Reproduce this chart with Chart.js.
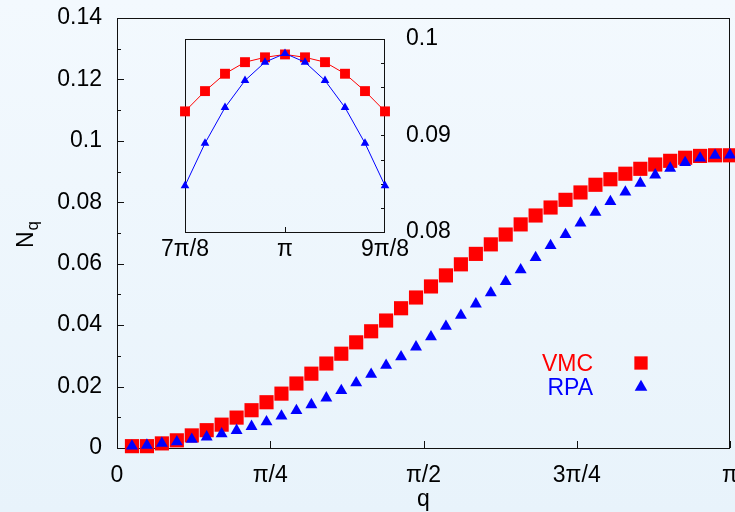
<!DOCTYPE html>
<html lang="en">
<head>
<meta charset="UTF-8">
<title>N(q) VMC vs RPA</title>
<script src="https://cdn.jsdelivr.net/npm/chart.js"></script>
<style>
  html, body { margin: 0; padding: 0; }
  body {
    width: 735px; height: 512px; overflow: hidden;
    background: linear-gradient(#f3f9fe, #e8f3fb);
  }
  #wrap { position: relative; width: 760px; height: 512px; }
  #mainChart { position: absolute; left: 0; top: 0; }
  #insetChart { position: absolute; left: 150px; top: 20px; }
</style>
</head>
<body>
<div id="wrap">
  <canvas id="mainChart" width="760" height="512"></canvas>
  <canvas id="insetChart" width="330" height="250"></canvas>
</div>

<script>
// q in units of pi
const mainQ = [0.0244, 0.0488, 0.0732, 0.0976, 0.1220, 0.1463, 0.1707, 0.1951, 0.2195, 0.2439,
               0.2683, 0.2927, 0.3171, 0.3415, 0.3659, 0.3902, 0.4146, 0.4390, 0.4634, 0.4878,
               0.5122, 0.5366, 0.5610, 0.5854, 0.6098, 0.6341, 0.6585, 0.6829, 0.7073, 0.7317,
               0.7561, 0.7805, 0.8049, 0.8293, 0.8537, 0.8780, 0.9024, 0.9268, 0.9512, 0.9756, 1.0];
const vmcMain = [0.0006, 0.0006, 0.0015, 0.0025, 0.0041, 0.0058, 0.0076, 0.0099, 0.0123, 0.0149,
                 0.0177, 0.0210, 0.0242, 0.0275, 0.0307, 0.0344, 0.0380, 0.0415, 0.0455, 0.0490,
                 0.0526, 0.0562, 0.0598, 0.0632, 0.0663, 0.0695, 0.0728, 0.0757, 0.0783, 0.0808,
                 0.0832, 0.0857, 0.0875, 0.0893, 0.0909, 0.0923, 0.0935, 0.0945, 0.0951, 0.0953, 0.0953];
const rpaMain = [0.0006, 0.0009, 0.0015, 0.0020, 0.0028, 0.0036, 0.0046, 0.0057, 0.0070, 0.0085,
                 0.0104, 0.0122, 0.0141, 0.0163, 0.0187, 0.0212, 0.0240, 0.0269, 0.0297, 0.0329,
                 0.0362, 0.0396, 0.0432, 0.0469, 0.0505, 0.0542, 0.0580, 0.0620, 0.0659, 0.0695,
                 0.0732, 0.0767, 0.0802, 0.0833, 0.0862, 0.0889, 0.0911, 0.0929, 0.0944, 0.0953, 0.0954];

const insetQ = [0.875, 0.9, 0.925, 0.95, 0.975, 1.0, 1.025, 1.05, 1.075, 1.1, 1.125];
const vmcInset = [0.0925, 0.0946, 0.0964, 0.0976, 0.0981, 0.0984, 0.0981, 0.0976, 0.0964, 0.0946, 0.0925];
const rpaInset = [0.0848, 0.0892, 0.0929, 0.0957, 0.0976, 0.0985, 0.0976, 0.0957, 0.0929, 0.0892, 0.0848];

const mainXTicks = [0, 0.25, 0.5, 0.75, 1];
const mainXLabels = ['0', 'π/4', 'π/2', '3π/4', 'π'];
const mainYTicks = [0, 0.02, 0.04, 0.06, 0.08, 0.1, 0.12, 0.14];
const mainYLabels = ['0', '0.02', '0.04', '0.06', '0.08', '0.1', '0.12', '0.14'];
const insetXTicks = [0.875, 1, 1.125];
const insetXLabels = ['7π/8', 'π', '9π/8'];
const insetYTicks = [0.08, 0.09, 0.1];
const insetYLabels = ['0.08', '0.09', '0.1'];

const RED = '#ff0000', BLUE = '#0000ff';
Chart.defaults.font.family = '"Liberation Sans", Arial, sans-serif';
Chart.defaults.color = '#000';

function pts(xs, ys) { return xs.map((x, i) => ({ x: x, y: ys[i] })); }
function setTicks(vals) { return function (s) { s.ticks = vals.map(v => ({ value: v })); }; }
// fixed axis size, and no extra room for label overhang
function fixSize(prop, size) {
  return function (s) {
    s[prop] = size;
    s.paddingTop = 0; s.paddingBottom = 0; s.paddingLeft = 0; s.paddingRight = 0;
  };
}

// box + inward ticks, drawn under the points
function framePlugin(cfg) {
  return {
    id: 'frame',
    beforeDatasetsDraw(chart) {
      const c = chart.ctx, a = chart.chartArea, xs = chart.scales.x, ys = chart.scales.y;
      c.save();
      c.strokeStyle = '#111';
      c.lineWidth = 1;
      c.strokeRect(Math.round(a.left) + 0.5, Math.round(a.top) + 0.5,
                   Math.round(a.right - a.left) - 1, Math.round(a.bottom - a.top));
      c.beginPath();
      cfg.xTicks.forEach(v => {
        const px = Math.round(xs.getPixelForValue(v)) + 0.5;
        c.moveTo(px, a.bottom); c.lineTo(px, a.bottom - cfg.xLen);
      });
      for (let v = cfg.yMin; v <= cfg.yMax + 1e-9; v += cfg.yStep) {
        const py = Math.round(ys.getPixelForValue(v)) + 0.5;
        const major = cfg.yTicks.some(t => Math.abs(t - v) < 1e-9);
        const len = major ? cfg.yMajor : cfg.yMinor;
        if (cfg.ySide === 'left') { c.moveTo(a.left, py); c.lineTo(a.left + len, py); }
        else { c.moveTo(a.right, py); c.lineTo(a.right - len, py); }
      }
      c.stroke();
      c.restore();
    }
  };
}

const labelsPlugin = {
  id: 'labels',
  afterDraw(chart) {
    const c = chart.ctx, a = chart.chartArea;
    c.save();
    c.fillStyle = '#000';
    // x title
    c.font = '23px "Liberation Sans", Arial, sans-serif';
    c.textAlign = 'center';
    c.textBaseline = 'alphabetic';
    c.fillText('q', (a.left + a.right) / 2, 506);
    // y title N_q
    c.save();
    c.translate(33, 248);
    c.rotate(-Math.PI / 2);
    c.textAlign = 'left';
    c.fillText('N', 0, 0);
    const w = c.measureText('N').width;
    c.font = '17px "Liberation Sans", Arial, sans-serif';
    c.fillText('q', w + 1, 5);
    c.restore();
    // key
    c.font = '23px "Liberation Sans", Arial, sans-serif';
    c.textAlign = 'right';
    c.fillStyle = RED;
    c.fillText('VMC', 593, 371);
    Chart.helpers.drawPoint(c, { pointStyle: 'rect', radius: 9.4, borderWidth: 0 }, 641, 363);
    c.fillStyle = BLUE;
    c.fillText('RPA', 593, 395);
    Chart.helpers.drawPoint(c, { pointStyle: 'triangle', radius: 7.3, borderWidth: 0 }, 641, 387);
    c.restore();
  }
};

new Chart(document.getElementById('mainChart').getContext('2d'), {
  type: 'scatter',
  data: {
    datasets: [
      { label: 'RPA', data: pts(mainQ, rpaMain), order: 0, pointStyle: 'triangle', pointRadius: 6.9,
        pointBackgroundColor: BLUE, pointBorderWidth: 0, showLine: false, clip: false },
      { label: 'VMC', data: pts(mainQ, vmcMain), order: 1, pointStyle: 'rect', pointRadius: 10,
        pointBackgroundColor: RED, pointBorderWidth: 0, showLine: false, clip: false }
    ]
  },
  options: {
    responsive: false, animation: false, events: [],
    layout: { padding: { left: 0, right: 30, top: 18, bottom: 0 } },
    plugins: { legend: { display: false }, tooltip: { enabled: false } },
    scales: {
      x: {
        type: 'linear', min: 0, max: 1,
        afterBuildTicks: setTicks(mainXTicks),
        afterFit: fixSize('height', 64),
        ticks: { callback: (v, i) => mainXLabels[i], font: { size: 23 }, padding: 14,
                 maxRotation: 0, autoSkip: false },
        grid: { display: false, drawTicks: false }, border: { display: false }
      },
      y: {
        type: 'linear', min: 0, max: 0.14,
        afterBuildTicks: setTicks(mainYTicks),
        afterFit: fixSize('width', 117),
        ticks: { callback: (v, i) => mainYLabels[i], font: { size: 23 }, padding: 15, autoSkip: false },
        grid: { display: false, drawTicks: false }, border: { display: false }
      }
    }
  },
  plugins: [framePlugin({ xTicks: mainXTicks, xLen: 7, yTicks: mainYTicks, yMin: 0, yMax: 0.14,
                          yStep: 0.01, yMajor: 7, yMinor: 4, ySide: 'left' }), labelsPlugin]
});

new Chart(document.getElementById('insetChart').getContext('2d'), {
  type: 'scatter',
  data: {
    datasets: [
      { label: 'RPA', data: pts(insetQ, rpaInset), order: 0, pointStyle: 'triangle', pointRadius: 5,
        pointBackgroundColor: BLUE, pointBorderWidth: 0, borderColor: BLUE, borderWidth: 1,
        showLine: true, tension: 0, clip: false },
      { label: 'VMC', data: pts(insetQ, vmcInset), order: 1, pointStyle: 'rect', pointRadius: 7,
        pointBackgroundColor: RED, pointBorderWidth: 0, borderColor: RED, borderWidth: 1,
        showLine: true, tension: 0, clip: false }
    ]
  },
  options: {
    responsive: false, animation: false, events: [],
    layout: { padding: { left: 35, right: 0, top: 19, bottom: 0 } },
    plugins: { legend: { display: false }, tooltip: { enabled: false } },
    scales: {
      x: {
        type: 'linear', min: 0.875, max: 1.125,
        afterBuildTicks: setTicks(insetXTicks),
        afterFit: fixSize('height', 38),
        ticks: { callback: (v, i) => insetXLabels[i], font: { size: 23 }, padding: 4,
                 maxRotation: 0, autoSkip: false },
        grid: { display: false, drawTicks: false }, border: { display: false }
      },
      y: {
        type: 'linear', position: 'right', min: 0.08, max: 0.1,
        afterBuildTicks: setTicks(insetYTicks),
        afterFit: fixSize('width', 95),
        ticks: { callback: (v, i) => insetYLabels[i], font: { size: 23 }, padding: 21, autoSkip: false },
        grid: { display: false, drawTicks: false }, border: { display: false }
      }
    }
  },
  plugins: [framePlugin({ xTicks: [1], xLen: 5, yTicks: insetYTicks, yMin: 0.08, yMax: 0.1,
                          yStep: 0.0025, yMajor: 4, yMinor: 4, ySide: 'right' })]
});
</script>
</body>
</html>
